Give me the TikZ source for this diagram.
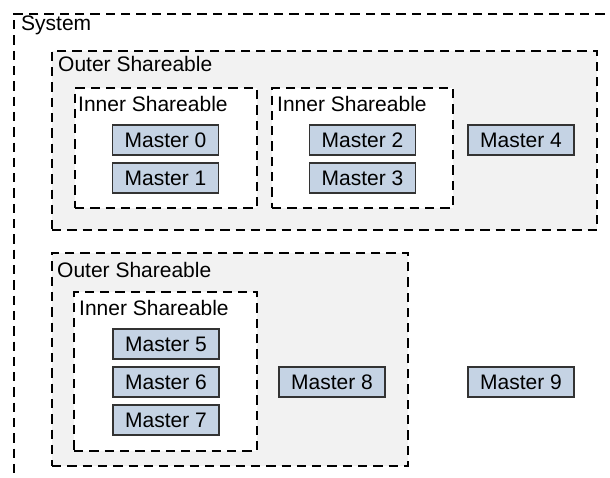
\documentclass[tikz,border=0pt]{standalone}
\usepackage{fontspec}
\setmainfont{Liberation Sans}
\definecolor{mfill}{HTML}{C5D3E4}
\definecolor{mline}{HTML}{333333}
\definecolor{ofill}{HTML}{F2F2F2}
\tikzset{
  grp/.style={draw=black, line width=2.4pt, dash pattern=on 9.3pt off 6pt, inner sep=0pt, outer sep=0pt, rectangle},
  outergrp/.style={grp, fill=ofill},
  innergrp/.style={grp, fill=white},
  master/.style={draw=mline, line width=1.3pt, fill=mfill, minimum width=106pt, minimum height=30pt, inner sep=0pt, font=\fontsize{21}{25}\selectfont},
  lbl/.style={anchor=base west, inner sep=0pt, font=\fontsize{21}{25}\selectfont}
}
\begin{document}
\begin{tikzpicture}[x=1pt,y=-1pt]
\useasboundingbox (0,0) rectangle (610,478);
\clip (0,0) rectangle (610,478);
\fill[white] (0,0) rectangle (610,478);
% system
\node[grp, minimum width=626pt, minimum height=486pt] (sys) at (327,257) {};
\node[lbl] (syslbl) at (21,31) {System};
% outer 1
\node[outergrp, minimum width=545pt, minimum height=179pt] (o1) at (324.5,140.5) {};
\node[lbl] (o1lbl) at (58,72) {Outer Shareable};
\node[innergrp, minimum width=182pt, minimum height=120pt] (i1) at (166,148) {};
\node[lbl] (i1lbl) at (78,112) {Inner Shareable};
\node[innergrp, minimum width=181pt, minimum height=120pt] (i2) at (362.5,148) {};
\node[lbl] (i2lbl) at (277,112) {Inner Shareable};
\node[master] (m0) at (165.5,140) {Master 0};
\node[master] (m1) at (165.5,178) {Master 1};
\node[master] (m2) at (362.5,140) {Master 2};
\node[master] (m3) at (362.5,178) {Master 3};
\node[master] (m4) at (521,140) {Master 4};
% outer 2
\node[outergrp, minimum width=356pt, minimum height=213pt] (o2) at (230,359.5) {};
\node[lbl] (o2lbl) at (57,277) {Outer Shareable};
\node[innergrp, minimum width=183pt, minimum height=159pt] (i3) at (165.5,371.5) {};
\node[lbl] (i3lbl) at (79,315) {Inner Shareable};
\node[master] (m5) at (166,344) {Master 5};
\node[master] (m6) at (166,382) {Master 6};
\node[master] (m7) at (166,420) {Master 7};
\node[master] (m8) at (332,382) {Master 8};
\node[master] (m9) at (521,382) {Master 9};
\end{tikzpicture}
\end{document}
